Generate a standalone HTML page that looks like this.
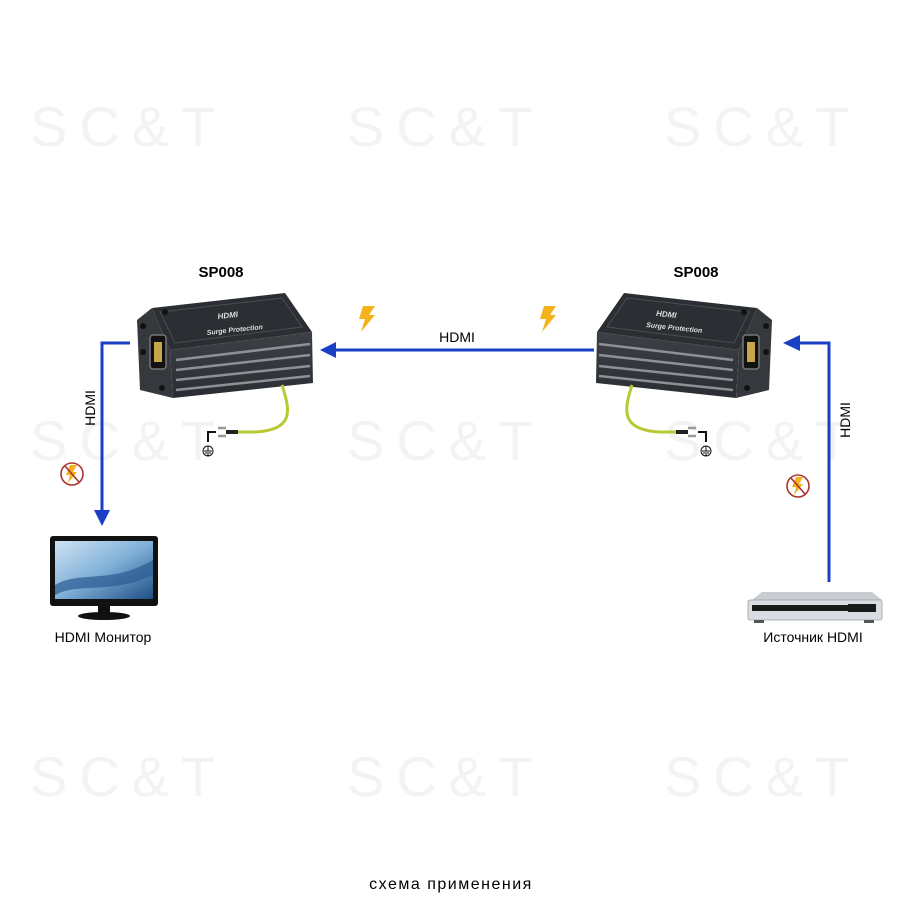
<!DOCTYPE html>
<html><head><meta charset="utf-8"><style>
html,body{margin:0;padding:0;background:#fff}
svg{display:block}
text{font-family:"Liberation Sans",Arial,sans-serif}
</style></head><body>
<svg width="900" height="900" viewBox="0 0 900 900" xmlns="http://www.w3.org/2000/svg">
<defs>
<linearGradient id="side" x1="0" y1="0" x2="0" y2="1"><stop offset="0" stop-color="#3d4146"/><stop offset="1" stop-color="#2a2d31"/></linearGradient>
<linearGradient id="scr" x1="0" y1="0" x2="1" y2="1"><stop offset="0" stop-color="#cfe3f3"/><stop offset="0.5" stop-color="#7fb0d8"/><stop offset="1" stop-color="#1f4f85"/></linearGradient>
<g id="bolt"><polygon points="8,0 20,0 14,9 20,9 6,26 10,13 4,13" fill="#f5b21a"/></g>
<g id="nobolt"><circle cx="12" cy="12" r="11" fill="#fff" stroke="#a33" stroke-width="1.6"/><polygon points="10,3 17,3 13,10 17,10 8,21 10,13 6,13" fill="#f5b21a"/><line x1="5" y1="4" x2="19" y2="20" stroke="#a33" stroke-width="1.6"/></g>
<g id="dev">
 <polygon points="152,308 285,293 312,332 170,350" fill="#2b2e32"/>
 <polygon points="160,312 282,298 302,327 175,343" fill="none" stroke="#4a4e53" stroke-width="1"/>
 <polygon points="170,350 312,332 313,383 173,398" fill="url(#side)"/>
 <g stroke="#8c9196" stroke-width="2.5">
  <line x1="176" y1="360" x2="310" y2="344"/><line x1="176" y1="370" x2="310" y2="355"/><line x1="176" y1="380" x2="310" y2="366"/><line x1="176" y1="390" x2="310" y2="376"/>
 </g>
 <polygon points="137,320 152,308 170,350 173,398 140,390" fill="#35383c"/>
 <rect x="150" y="335" width="16" height="34" rx="3" fill="#111" stroke="#777" stroke-width="1.5"/>
 <rect x="154" y="342" width="8" height="20" fill="#c9a54b"/>
 <circle cx="143" cy="326" r="3" fill="#111"/><circle cx="165" cy="312" r="3" fill="#111"/><circle cx="162" cy="388" r="3" fill="#111"/><circle cx="143" cy="352" r="3" fill="#111"/>
</g>
</defs>
<g font-size="56" fill="#f3f3f3" letter-spacing="12">
 <text x="30" y="146">SC&amp;T</text><text x="347" y="146">SC&amp;T</text><text x="664" y="146">SC&amp;T</text>
 <text x="30" y="460">SC&amp;T</text><text x="347" y="460">SC&amp;T</text><text x="664" y="460">SC&amp;T</text>
 <text x="30" y="796">SC&amp;T</text><text x="347" y="796">SC&amp;T</text><text x="664" y="796">SC&amp;T</text>
</g>
<text x="221" y="277" font-size="15" font-weight="bold" text-anchor="middle">SP008</text>
<text x="696" y="277" font-size="15" font-weight="bold" text-anchor="middle">SP008</text>
<use href="#dev"/>
<text x="228" y="318" font-size="8" fill="#ddd" font-family="Liberation Serif" font-style="italic" font-weight="bold" text-anchor="middle" transform="rotate(-6 228 318)">HDMI</text>
<text x="235" y="332" font-size="7" fill="#ddd" font-family="Liberation Serif" font-style="italic" font-weight="bold" text-anchor="middle" transform="rotate(-6 235 332)">Surge Protection</text>
<g transform="translate(909,0) scale(-1,1)"><use href="#dev"/></g>
<text x="666" y="317" font-size="8" fill="#ddd" font-family="Liberation Serif" font-style="italic" font-weight="bold" text-anchor="middle" transform="rotate(6 666 317)">HDMI</text>
<text x="674" y="330" font-size="7" fill="#ddd" font-family="Liberation Serif" font-style="italic" font-weight="bold" text-anchor="middle" transform="rotate(6 674 330)">Surge Protection</text>
<path d="M282,385 C290,410 295,430 255,432 L238,432" fill="none" stroke="#b9c934" stroke-width="3"/>
<path d="M238,432 L226,432" stroke="#222" stroke-width="4"/>
<path d="M226,428 L218,428 M226,436 L218,436" stroke="#999" stroke-width="2.5"/>
<path d="M208,442 L208,432 L216,432" fill="none" stroke="#111" stroke-width="2"/>
<circle cx="208" cy="451" r="5" fill="#fff" stroke="#111"/><path d="M204,451h8M205,453h6M207,455h2M208,446v5" stroke="#111"/>
<path d="M632,385 C624,410 620,430 660,432 L676,432" fill="none" stroke="#b9c934" stroke-width="3"/>
<path d="M676,432 L688,432" stroke="#222" stroke-width="4"/>
<path d="M688,428 L696,428 M688,436 L696,436" stroke="#999" stroke-width="2.5"/>
<path d="M706,442 L706,432 L698,432" fill="none" stroke="#111" stroke-width="2"/>
<circle cx="706" cy="451" r="5" fill="#fff" stroke="#111"/><path d="M702,451h8M703,453h6M705,455h2M706,446v5" stroke="#111"/>
<g stroke="#1a3fc4" stroke-width="3" fill="none">
 <path d="M130,343 H102 V512"/>
 <path d="M594,350 H332"/>
 <path d="M829,582 V343 H800"/>
</g>
<polygon points="94,510 110,510 102,526" fill="#1a3fc4"/>
<polygon points="320,350 336,342 336,358" fill="#1a3fc4"/>
<polygon points="783,343 800,335 800,351" fill="#1a3fc4"/>
<text x="457" y="342" font-size="14" text-anchor="middle">HDMI</text>
<text transform="translate(95,408) rotate(-90)" font-size="14" text-anchor="middle">HDMI</text>
<text transform="translate(850,420) rotate(-90)" font-size="14" text-anchor="middle">HDMI</text>
<use href="#bolt" x="355" y="306"/>
<use href="#bolt" x="536" y="306"/>
<use href="#nobolt" x="60" y="462"/>
<use href="#nobolt" x="786" y="474"/>
<rect x="50" y="536" width="108" height="70" rx="3" fill="#111"/>
<rect x="55" y="541" width="98" height="58" fill="url(#scr)"/>
<path d="M55,585 C80,570 110,585 153,560 L153,575 C110,595 80,582 55,595Z" fill="#2b5a92" opacity="0.7"/>
<rect x="98" y="606" width="12" height="8" fill="#111"/>
<ellipse cx="104" cy="616" rx="26" ry="4" fill="#111"/>
<text x="103" y="642" font-size="14" text-anchor="middle">HDMI Монитор</text>
<polygon points="752,600 762,592 872,592 882,600" fill="#c8cbd0"/>
<rect x="748" y="600" width="134" height="20" rx="2" fill="#d9dce0" stroke="#9a9ea4" stroke-width="0.8"/>
<rect x="752" y="605" width="100" height="6" fill="#1a1a1a"/>
<rect x="848" y="604" width="28" height="8" fill="#1a1a1a"/>
<rect x="754" y="620" width="10" height="3" fill="#555"/><rect x="864" y="620" width="10" height="3" fill="#555"/>
<text x="813" y="642" font-size="14" text-anchor="middle">Источник HDMI</text>
<text x="451" y="889" font-size="16" letter-spacing="1.5" text-anchor="middle">схема применения</text>
</svg>
</body></html>
